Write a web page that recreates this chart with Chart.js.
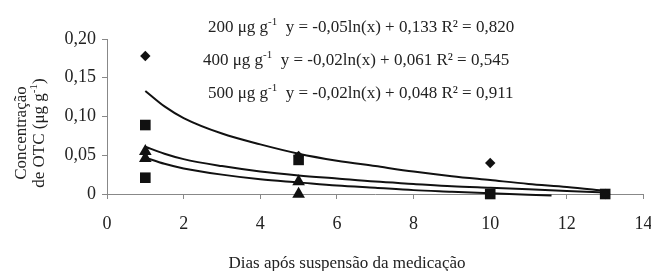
<!DOCTYPE html>
<html>
<head>
<meta charset="utf-8">
<script src="https://cdn.jsdelivr.net/npm/chart.js@4"></script>
<style>
  html, body { margin: 0; padding: 0; background: #fff; }
  #wrap { width: 651px; height: 271px; }
</style>
</head>
<body>
<div id="wrap"><canvas id="chart"></canvas></div>
<script>
// observed points
var diamondX = [1, 5, 10, 13];
var diamondY = [0.178, 0.049, 0.040, 0.000];
var squareX = [1, 1, 5, 10, 13];
var squareY = [0.089, 0.021, 0.044, 0.000, 0.000];
var triangleX = [1, 1, 5, 5];
var triangleY = [0.055, 0.046, 0.016, 0.000];

// trend curves
var curveX = [1, 1.5, 2, 3, 4, 5, 6, 7, 8, 9, 10, 11, 12, 13];
var curve200 = [0.133, 0.113, 0.098, 0.078, 0.064, 0.052, 0.043, 0.036, 0.029, 0.023, 0.018, 0.013, 0.009, 0.004];
var curve400 = [0.061, 0.052, 0.045, 0.036, 0.029, 0.024, 0.020, 0.016, 0.013, 0.010, 0.008, 0.006, 0.004, 0.002];
var curve500X = [1, 1.5, 2, 3, 4, 5, 6, 7, 8, 9, 10, 11, 11.6];
var curve500 = [0.047, 0.039, 0.033, 0.025, 0.019, 0.015, 0.011, 0.008, 0.005, 0.003, 0.001, -0.001, -0.002];

var doses = ["200", "400", "500"];
var equations = ["y = -0,05ln(x) + 0,133 R² = 0,820", "y = -0,02ln(x) + 0,061 R² = 0,545", "y = -0,02ln(x) + 0,048 R² = 0,911"];

var xTitle = "Dias após suspensão da medicação";
var yTitle1 = "Concentração";
var yTitle2 = "de OTC (μg g";

function pts(xs, ys) {
    return xs.map(function(x, i) { return {x: x, y: ys[i]}; });
}

var serif = "'Liberation Serif', 'Times New Roman', serif";
var fs = 17;

// draws "text g^-1 rest" with a small raised -1
function drawSup(ctx, x, y, before, after, size) {
    ctx.font = size + "px " + serif;
    ctx.fillText(before, x, y);
    var w = ctx.measureText(before).width;
    ctx.font = Math.round(size * 0.62) + "px " + serif;
    ctx.fillText("-1", x + w, y - size * 0.4);
    var w2 = ctx.measureText("-1").width;
    ctx.font = size + "px " + serif;
    if (after) ctx.fillText(after, x + w + w2, y);
    return w + w2;
}

var textPlugin = {
    id: 'texts',
    afterDraw: function(chart) {
        var ctx = chart.ctx;
        ctx.save();
        ctx.fillStyle = '#222';
        ctx.textBaseline = 'alphabetic';
        ctx.textAlign = 'left';
        var starts = [208, 203, 208];
        var bases = [32, 65, 98];
        for (var i = 0; i < doses.length; i++) {
            drawSup(ctx, starts[i], bases[i], doses[i] + " μg g", "  " + equations[i], fs);
        }
        // x axis title
        ctx.textAlign = 'center';
        ctx.font = fs + "px " + serif;
        ctx.fillText(xTitle, 347, 268);
        // y axis title, two rotated lines
        ctx.save();
        ctx.translate(26, 133);
        ctx.rotate(-Math.PI / 2);
        ctx.textAlign = 'center';
        ctx.font = fs + "px " + serif;
        ctx.fillText(yTitle1, 0, 0);
        ctx.restore();
        ctx.save();
        ctx.translate(44, 133);
        ctx.rotate(-Math.PI / 2);
        ctx.font = fs + "px " + serif;
        var full = ctx.measureText(yTitle2).width + ctx.measureText(")").width;
        ctx.font = Math.round(fs * 0.62) + "px " + serif;
        full += ctx.measureText("-1").width;
        ctx.textAlign = 'left';
        var w = drawSup(ctx, -full / 2, 0, yTitle2, null, fs);
        ctx.fillText(")", -full / 2 + w, 0);
        ctx.restore();
        ctx.restore();
    }
};

var ctx = document.getElementById('chart');
var chart = new Chart(ctx, {
    type: 'scatter',
    data: {
        datasets: [
            { data: pts(curveX, curve200), showLine: true, cubicInterpolationMode: 'monotone', borderColor: '#111', borderWidth: 2, pointRadius: 0, order: 2 },
            { data: pts(curveX, curve400), showLine: true, cubicInterpolationMode: 'monotone', borderColor: '#111', borderWidth: 2, pointRadius: 0, order: 2 },
            { data: pts(curve500X, curve500), showLine: true, cubicInterpolationMode: 'monotone', borderColor: '#111', borderWidth: 2, pointRadius: 0, order: 2, clip: 4 },
            { data: pts(diamondX, diamondY), pointStyle: 'rectRot', pointRadius: 5.2, backgroundColor: '#111', borderWidth: 0, order: 1, clip: false },
            { data: pts(squareX, squareY), pointStyle: 'rect', pointRadius: 7.5, backgroundColor: '#111', borderWidth: 0, order: 1, clip: false },
            { data: pts(triangleX, triangleY), pointStyle: 'triangle', pointRadius: 7.3, backgroundColor: '#111', borderWidth: 0, order: 1, clip: false }
        ]
    },
    options: {
        responsive: true,
        maintainAspectRatio: false,
        animation: false,
        layout: { padding: { left: 0, right: 7, top: 39, bottom: 0 } },
        scales: {
            x: {
                type: 'linear', min: 0, max: 14,
                afterFit: function(s) { s.height = 77; s.paddingRight = 0; s.paddingLeft = 0; },
                ticks: { stepSize: 2, color: '#222', font: { family: serif, size: 18 }, padding: 14, maxRotation: 0 },
                grid: { drawOnChartArea: false, tickLength: 5, color: '#888' },
                border: { color: '#888', width: 1 }
            },
            y: {
                min: 0, max: 0.2,
                afterFit: function(s) { s.width = 107; s.paddingTop = 0; s.paddingBottom = 0; },
                ticks: {
                    stepSize: 0.05, color: '#222', padding: 6,
                    font: { family: serif, size: 18 },
                    callback: function(v) { return v === 0 ? "0" : v.toFixed(2).replace(".", ","); }
                },
                grid: { drawOnChartArea: false, tickLength: 5, color: '#888' },
                border: { color: '#888', width: 1 }
            }
        },
        plugins: { legend: { display: false }, tooltip: { enabled: false } }
    },
    plugins: [textPlugin]
});
</script>
</body>
</html>
